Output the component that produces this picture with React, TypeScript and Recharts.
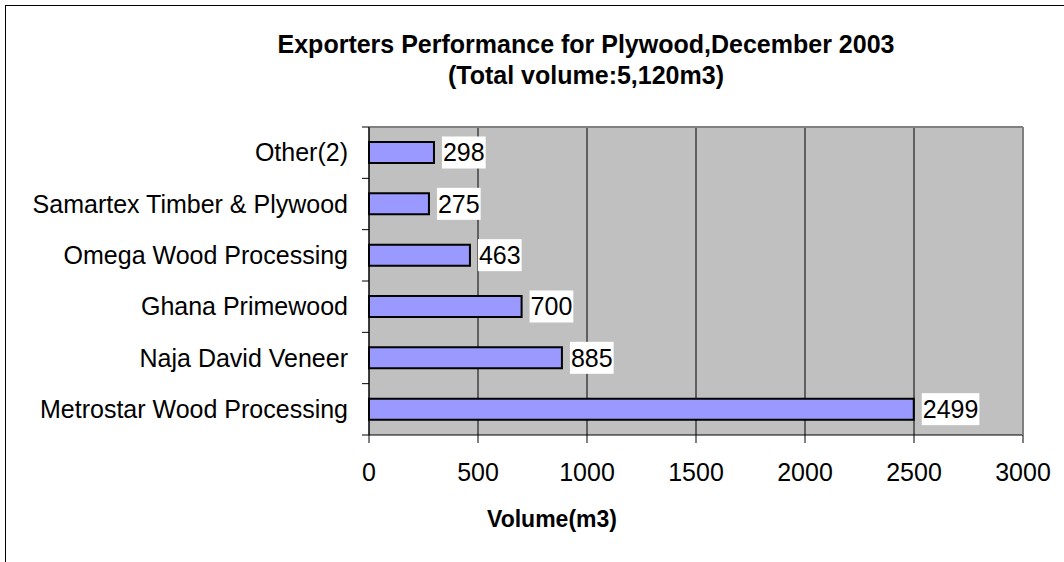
import React from 'react'
import { BarChart, Bar, XAxis, YAxis, CartesianGrid, LabelList } from 'recharts'

const exporters = [
  'Other(2)',
  'Samartex Timber & Plywood',
  'Omega Wood Processing',
  'Ghana Primewood',
  'Naja David Veneer',
  'Metrostar Wood Processing',
]
const volumes = [298, 275, 463, 700, 885, 2499]
const volumeTicks = [0, 500, 1000, 1500, 2000, 2500, 3000]

const FONT = '"Liberation Sans", Arial, sans-serif'
const TICK_SIZE = 7
const TICK_MARGIN = 14

const chartData = exporters.map((name, i) => ({ name, volume: volumes[i] }))

function CategoryTick(props: any) {
  const { x, y, payload, index, visibleTicksCount, height } = props
  const half = payload?.offset ?? height / visibleTicksCount / 2
  const right = x + TICK_SIZE + TICK_MARGIN
  return (
    <g>
      <line x1={right - TICK_SIZE} x2={right} y1={y - half} y2={y - half} stroke="#000" />
      {index === visibleTicksCount - 1 && (
        <line x1={right - TICK_SIZE} x2={right} y1={y + half} y2={y + half} stroke="#000" />
      )}
      <text x={x} y={y} dy="0.35em" textAnchor="end" fontSize={25} fontFamily={FONT} fill="#000">
        {payload.value}
      </text>
    </g>
  )
}

function ValueLabel(props: any) {
  const { x, y, width, height, value } = props
  const fs = 25
  const tw = String(value).length * 0.556 * fs
  const bx = x + width + 8
  const cy = y + height / 2
  return (
    <g>
      <rect x={bx} y={cy - 16} width={tw + 2} height={32} fill="#fff" />
      <text x={bx + 1} y={cy} dy="0.35em" fontSize={fs} fontFamily={FONT} fill="#000">
        {value}
      </text>
    </g>
  )
}

export default function App() {
  return (
    <div style={{ position: 'absolute', left: 0, top: 0, width: 1064, height: 562, background: '#fff', overflow: 'hidden' }}>
      <svg width={1064} height={562} style={{ position: 'absolute', left: 0, top: 0 }}>
        <rect x={5.5} y={5.5} width={1200} height={700} fill="none" stroke="#000" strokeWidth={1} />
        <text x={586} y={52.5} textAnchor="middle" fontSize={25} fontWeight="bold" fontFamily={FONT}>
          Exporters Performance for Plywood,December 2003
        </text>
        <text x={586} y={83.5} textAnchor="middle" fontSize={25} fontWeight="bold" fontFamily={FONT}>
          (Total volume:5,120m3)
        </text>
        <text x={552} y={527} textAnchor="middle" fontSize={23} fontWeight="bold" fontFamily={FONT}>
          Volume(m3)
        </text>
      </svg>
      <div style={{ position: 'absolute', left: 0, top: 0 }}>
        <BarChart
          width={1064}
          height={562}
          data={chartData}
          layout="vertical"
          margin={{ top: 126, right: 40, bottom: 67, left: 0 }}
          barSize={21}
        >
          <CartesianGrid horizontal={false} vertical stroke="#000" fill="#c0c0c0" fillOpacity={1} />
          <XAxis
            type="number"
            domain={[0, 3000]}
            ticks={volumeTicks}
            interval={0}
            height={60}
            tickSize={8}
            tickMargin={20}
            axisLine={{ stroke: '#000' }}
            tickLine={{ stroke: '#000' }}
            tick={{ fontSize: 25, fontFamily: FONT, fill: '#000' }}
          />
          <XAxis
            xAxisId="top"
            orientation="top"
            type="number"
            domain={[0, 3000]}
            height={1}
            tick={false}
            tickLine={false}
            axisLine={{ stroke: '#808080', strokeWidth: 2 }}
          />
          <YAxis
            type="category"
            dataKey="name"
            width={369}
            interval={0}
            tickLine={false}
            tickSize={TICK_SIZE}
            tickMargin={TICK_MARGIN}
            axisLine={{ stroke: '#000' }}
            tick={<CategoryTick />}
          />
          <YAxis
            yAxisId="right"
            orientation="right"
            type="category"
            dataKey="name"
            width={1}
            tick={false}
            tickLine={false}
            axisLine={{ stroke: '#808080', strokeWidth: 2 }}
          />
          <Bar dataKey="volume" fill="#9999ff" stroke="#000" strokeWidth={2} isAnimationActive={false}>
            <LabelList dataKey="volume" content={<ValueLabel />} />
          </Bar>
        </BarChart>
      </div>
    </div>
  )
}
